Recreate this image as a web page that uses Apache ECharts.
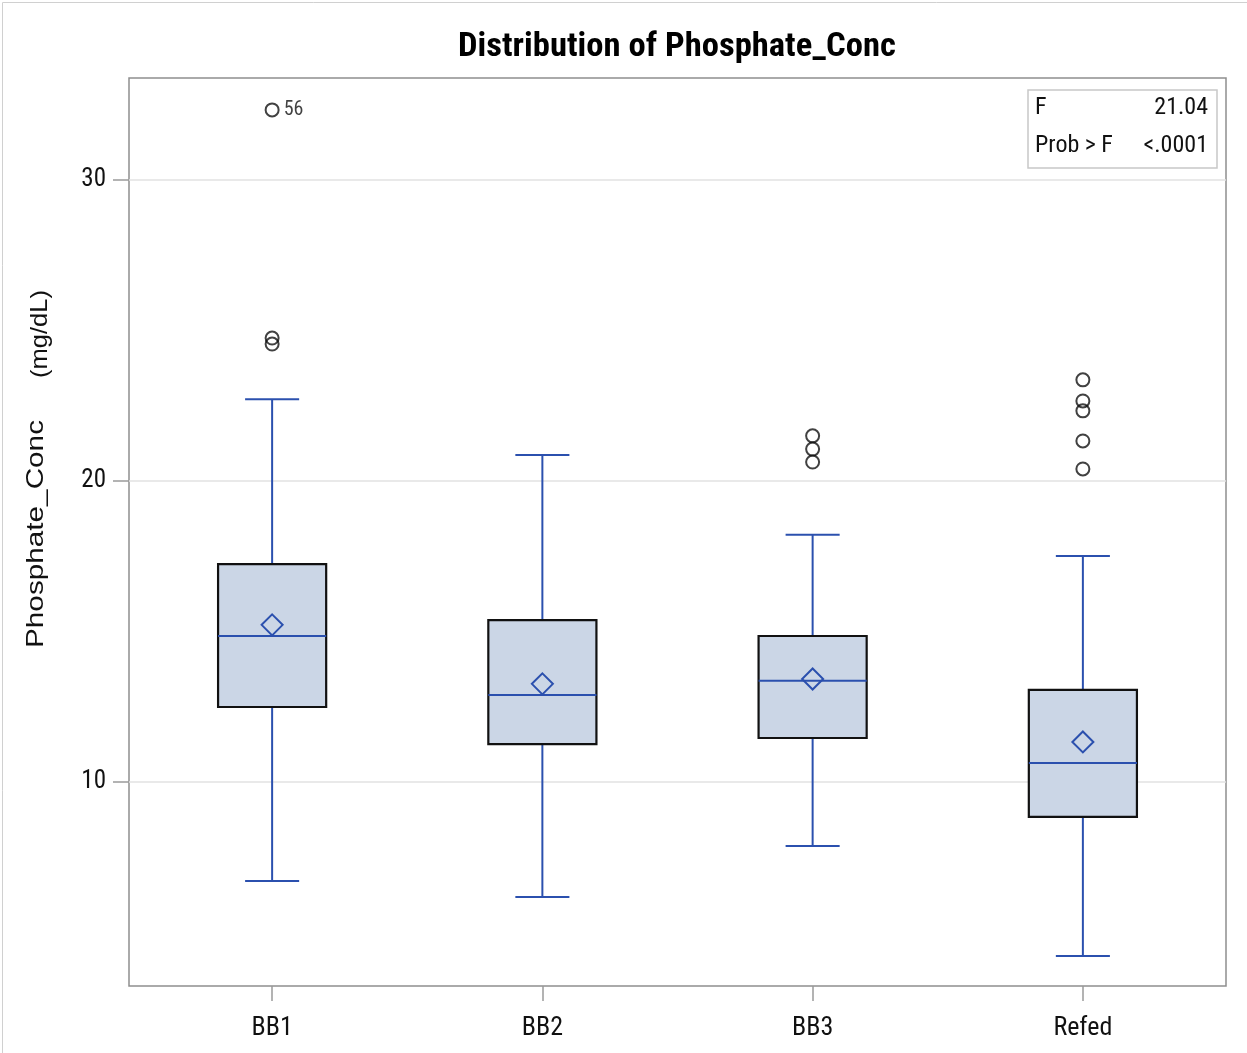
<!DOCTYPE html>
<html>
<head>
<meta charset="utf-8">
<script src="https://cdn.jsdelivr.net/npm/echarts@6/dist/echarts.min.js"></script>
<style>html,body{margin:0;padding:0;background:#fff}#c{width:1247px;height:1053px}</style>
</head>
<body>
<div id="c"></div>
<script>
const categories = ['BB1', 'BB2', 'BB3', 'Refed'];
const whiskerLow = [6.71, 6.18, 7.87, 4.22];
const q1 = [12.49, 11.26, 11.46, 8.84];
const median = [14.85, 12.89, 13.36, 10.63];
const q3 = [17.24, 15.38, 14.85, 13.06];
const whiskerHigh = [22.72, 20.86, 18.21, 17.51];
const means = [15.22, 13.26, 13.42, 11.33];
const outliers = [[0, 32.33, '56'], [0, 24.75, ''], [0, 24.55, ''], [2, 21.50, ''], [2, 21.06, ''], [2, 20.63, ''], [3, 23.36, ''], [3, 22.66, ''], [3, 22.33, ''], [3, 21.33, ''], [3, 20.40, '']];
const yTicks = [10, 20, 30];
const yMin = 3.22, yMax = 33.39;
const fStat = '21.04';
const probF = '<.0001';

const NARROW = "'Liberation Sans Narrow', 'Roboto Condensed', 'Arial Narrow', 'Liberation Sans', sans-serif";
const SANS = "'Liberation Sans', Arial, sans-serif";
const blue = '#2b50ae';

const measureCtx = document.createElement('canvas').getContext('2d');
function fitScale(text, font, target) {
  measureCtx.font = font;
  return target / measureCtx.measureText(text).width;
}

const titleFont = "bold 34px " + NARROW;
const yNameFont = "24px " + SANS;
const unitFont = "24px " + SANS;

const chart = echarts.init(document.getElementById('c'));
const boxData = categories.map((c, i) => [i, whiskerLow[i], q1[i], median[i], q3[i], whiskerHigh[i], means[i]]);

chart.setOption({
  animation: false,
  grid: [
    {left: 129, right: 21, top: 78, bottom: 67, show: true, borderColor: '#8e8e8e', borderWidth: 1.5, backgroundColor: 'transparent'},
    {left: 137, right: 29, top: 78, bottom: 67}
  ],
  xAxis: [
    {gridIndex: 0, type: 'value', min: 0, max: 1, show: false},
    {gridIndex: 1, type: 'category', data: categories,
     axisLine: {show: false},
     axisTick: {show: true, alignWithLabel: true, length: 15, lineStyle: {color: '#9a9a9a', width: 1.5}},
     axisLabel: {margin: 29, color: '#111', fontSize: 26, fontFamily: NARROW},
     splitLine: {show: false}}
  ],
  yAxis: [
    {gridIndex: 0, type: 'value', min: yMin, max: yMax,
     axisLine: {show: false},
     axisTick: {show: true, length: 16, customValues: yTicks, lineStyle: {color: '#9a9a9a', width: 1.5}},
     axisLabel: {customValues: yTicks, margin: 23, color: '#111', fontSize: 25, fontFamily: NARROW},
     splitLine: {show: true, lineStyle: {color: '#e2e2e2', width: 1.5}}},
    {gridIndex: 1, type: 'value', min: yMin, max: yMax, show: false, splitLine: {show: false}}
  ],
  series: [
    {
      type: 'custom', xAxisIndex: 1, yAxisIndex: 1, data: boxData, z: 3,
      renderItem: function (params, api) {
        const x = api.value(0);
        const lo = api.coord([x, api.value(1)]);
        const p1 = api.coord([x, api.value(2)]);
        const pm = api.coord([x, api.value(3)]);
        const p3 = api.coord([x, api.value(4)]);
        const hi = api.coord([x, api.value(5)]);
        const mn = api.coord([x, api.value(6)]);
        const bw = api.size([1, 0])[0] * 0.4;
        const cw = bw / 2;
        const cx = lo[0];
        const ls = {stroke: blue, lineWidth: 2};
        const d = 10.5;
        return {type: 'group', children: [
          {type: 'line', shape: {x1: cx, y1: p3[1], x2: cx, y2: hi[1]}, style: ls},
          {type: 'line', shape: {x1: cx, y1: p1[1], x2: cx, y2: lo[1]}, style: ls},
          {type: 'line', shape: {x1: cx - cw / 2, y1: hi[1], x2: cx + cw / 2, y2: hi[1]}, style: ls},
          {type: 'line', shape: {x1: cx - cw / 2, y1: lo[1], x2: cx + cw / 2, y2: lo[1]}, style: ls},
          {type: 'rect', shape: {x: cx - bw / 2, y: p3[1], width: bw, height: p1[1] - p3[1]},
           style: {fill: '#cbd6e6', stroke: '#111', lineWidth: 2.2}},
          {type: 'line', shape: {x1: cx - bw / 2, y1: pm[1], x2: cx + bw / 2, y2: pm[1]}, style: ls},
          {type: 'polygon', shape: {points: [[cx, mn[1] - d], [cx + d, mn[1]], [cx, mn[1] + d], [cx - d, mn[1]]]},
           style: {fill: 'none', stroke: blue, lineWidth: 2}}
        ]};
      }
    },
    {
      type: 'scatter', xAxisIndex: 1, yAxisIndex: 1, z: 4,
      data: outliers.map(o => ({value: [o[0], o[1]], label: {show: !!o[2], formatter: o[2]}})),
      symbol: 'circle', symbolSize: 13,
      itemStyle: {color: 'rgba(255,255,255,0)', borderColor: '#111', borderWidth: 2},
      label: {position: 'right', distance: 4, color: '#111', fontSize: 20, fontFamily: NARROW}
    }
  ],
  graphic: [
    {type: 'rect', left: 0, top: 0, shape: {x: 0.5, y: 0.5, width: 1245, height: 1051}, style: {fill: 'none', stroke: '#d0d0d0', lineWidth: 1}, silent: true, z: -1},
    {type: 'text', x: 677, y: 47, scaleX: fitScale('Distribution of Phosphate_Conc', titleFont, 438),
     style: {text: 'Distribution of Phosphate_Conc', font: titleFont, fill: '#000', textAlign: 'center', textVerticalAlign: 'middle'}},
    {type: 'text', x: 36, y: 534, rotation: Math.PI / 2, scaleX: fitScale('Phosphate_Conc', yNameFont, 228),
     style: {text: 'Phosphate_Conc', font: yNameFont, fill: '#111', textAlign: 'center', textVerticalAlign: 'middle'}},
    {type: 'text', x: 40, y: 334, rotation: Math.PI / 2, scaleX: fitScale('(mg/dL)', unitFont, 88),
     style: {text: '(mg/dL)', font: unitFont, fill: '#111', textAlign: 'center', textVerticalAlign: 'middle'}},
    {type: 'rect', shape: {x: 1028, y: 90, width: 189, height: 78}, style: {fill: '#fff', stroke: '#c8c8c8', lineWidth: 1.5}, z: 10},
    {type: 'text', x: 1035, y: 108, z: 11, style: {text: 'F', font: "24px " + NARROW, fill: '#111', textAlign: 'left', textVerticalAlign: 'middle'}},
    {type: 'text', x: 1208, y: 108, z: 11, style: {text: fStat, font: "24px " + NARROW, fill: '#111', textAlign: 'right', textVerticalAlign: 'middle'}},
    {type: 'text', x: 1035, y: 146, z: 11, style: {text: 'Prob > F', font: "24px " + NARROW, fill: '#111', textAlign: 'left', textVerticalAlign: 'middle'}},
    {type: 'text', x: 1208, y: 146, z: 11, style: {text: probF, font: "24px " + NARROW, fill: '#111', textAlign: 'right', textVerticalAlign: 'middle'}}
  ]
});
</script>
</body>
</html>
